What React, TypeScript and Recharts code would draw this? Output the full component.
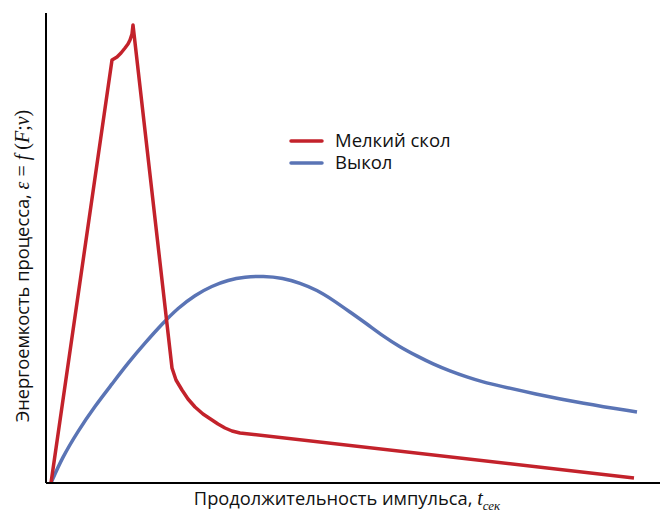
import React from 'react';
import { LineChart, Line, XAxis, YAxis, Legend } from 'recharts';

// Arbitrary units: x = pulse duration, y = energy intensity
const redX = [5, 66, 71, 75, 79, 82, 84, 86, 87, 126, 130, 136, 142, 149, 157, 166, 172, 179, 186, 194, 588];
const redY = [0, 423, 426, 430, 435, 439, 443, 449, 458, 115, 103, 93, 84, 76, 69, 63, 59, 55, 52, 50, 5];
const blueX = [5, 16, 32, 49, 66, 82, 99, 116, 132, 149, 166, 182, 199, 217, 237, 254, 271, 287, 304, 321, 337, 354, 371, 387, 404, 421, 437, 454, 487, 537, 591];
const blueY = [0, 25, 52, 77, 99, 120, 140, 159, 175, 188, 197, 203, 206, 207, 205, 200, 193, 183, 171, 159, 147, 136, 127, 119, 112, 106, 101, 97, 89.5, 79.5, 71];
const seriesNames = ['Мелкий скол', 'Выкол'];
const RED = '#C3222B';
const BLUE = '#5A74B5';

const redData = redX.map((x, i) => ({ x, y: redY[i] }));
const blueData = blueX.map((x, i) => ({ x, y: blueY[i] }));

const SANS = '"Open Sans", "Noto Sans", sans-serif';
const SERIF = '"Liberation Serif", "DejaVu Serif", serif';

const XLabel = () => {
  const cx = 347;
  const y = 505;
  return (
    <text x={cx} y={y} textAnchor="middle" fontFamily={SANS} fontSize={18.3} fill="#111">
      <tspan>Продолжительность импульса, </tspan>
      <tspan fontFamily={SERIF} fontStyle="italic" fontSize={20}>t</tspan>
      <tspan fontFamily={SERIF} fontStyle="italic" fontSize={13} dy={5}>сек</tspan>
    </text>
  );
};

const YLabel = () => {
  const cx = 29;
  const cy = 266;
  return (
    <text x={cx} y={cy} transform={`rotate(-90, ${cx}, ${cy})`} textAnchor="middle" fontFamily={SANS} fontSize={18.3} fill="#111">
      <tspan>Энергоемкость процесса, </tspan>
      <tspan fontFamily={SERIF} fontStyle="italic" fontSize={20}>ε</tspan>
      <tspan fontFamily={SERIF} fontSize={20}> = </tspan>
      <tspan fontFamily={SERIF} fontStyle="italic" fontSize={20}>f</tspan>
      <tspan fontFamily={SERIF} fontSize={20}> (</tspan>
      <tspan fontFamily={SERIF} fontStyle="italic" fontSize={20}>F</tspan>
      <tspan fontFamily={SERIF} fontSize={20}>;</tspan>
      <tspan fontFamily={SERIF} fontStyle="italic" fontSize={20}>v</tspan>
      <tspan fontFamily={SERIF} fontSize={20}>)</tspan>
    </text>
  );
};

const LegendContent = () => {
  const colors = [RED, BLUE];
  return (
    <svg width={200} height={50} style={{ display: 'block' }}>
      {seriesNames.map((n, i) => (
        <g key={n}>
          <line x1={3} x2={34} y1={13 + i * 22} y2={13 + i * 22} stroke={colors[i]} strokeWidth={3.5} strokeLinecap="round" />
          <text x={47} y={19 + i * 22} fontFamily={SANS} fontSize={18.5} fill="#111">{n}</text>
        </g>
      ))}
    </svg>
  );
};

export default function App() {
  return (
    <div style={{ position: 'absolute', left: 0, top: 0, width: 663, height: 510, background: '#fff', overflow: 'hidden' }}>
      <LineChart width={663} height={510} margin={{ top: 13, right: 3, bottom: 0, left: 0 }}>
        <XAxis
          type="number"
          dataKey="x"
          domain={[0, 614]}
          tick={false}
          tickLine={false}
          height={27}
          axisLine={{ stroke: '#000', strokeWidth: 2 }}
          label={<XLabel />}
        />
        <YAxis
          type="number"
          dataKey="y"
          domain={[0, 470]}
          tick={false}
          tickLine={false}
          width={46}
          axisLine={{ stroke: '#000', strokeWidth: 2 }}
          label={<YLabel />}
        />
        <Legend
          layout="horizontal"
          verticalAlign="middle"
          align="center"
          content={<LegendContent />}
          wrapperStyle={{ position: 'absolute', left: 288, top: 128, width: 200, height: 50 }}
        />
        <Line
          data={blueData}
          dataKey="y"
          name={seriesNames[1]}
          type="basis"
          stroke={BLUE}
          strokeWidth={3.5}
          dot={false}
          isAnimationActive={false}
        />
        <Line
          data={redData}
          dataKey="y"
          name={seriesNames[0]}
          type="linear"
          stroke={RED}
          strokeWidth={3.5}
          strokeLinejoin="round"
          dot={false}
          isAnimationActive={false}
        />
      </LineChart>
    </div>
  );
}
